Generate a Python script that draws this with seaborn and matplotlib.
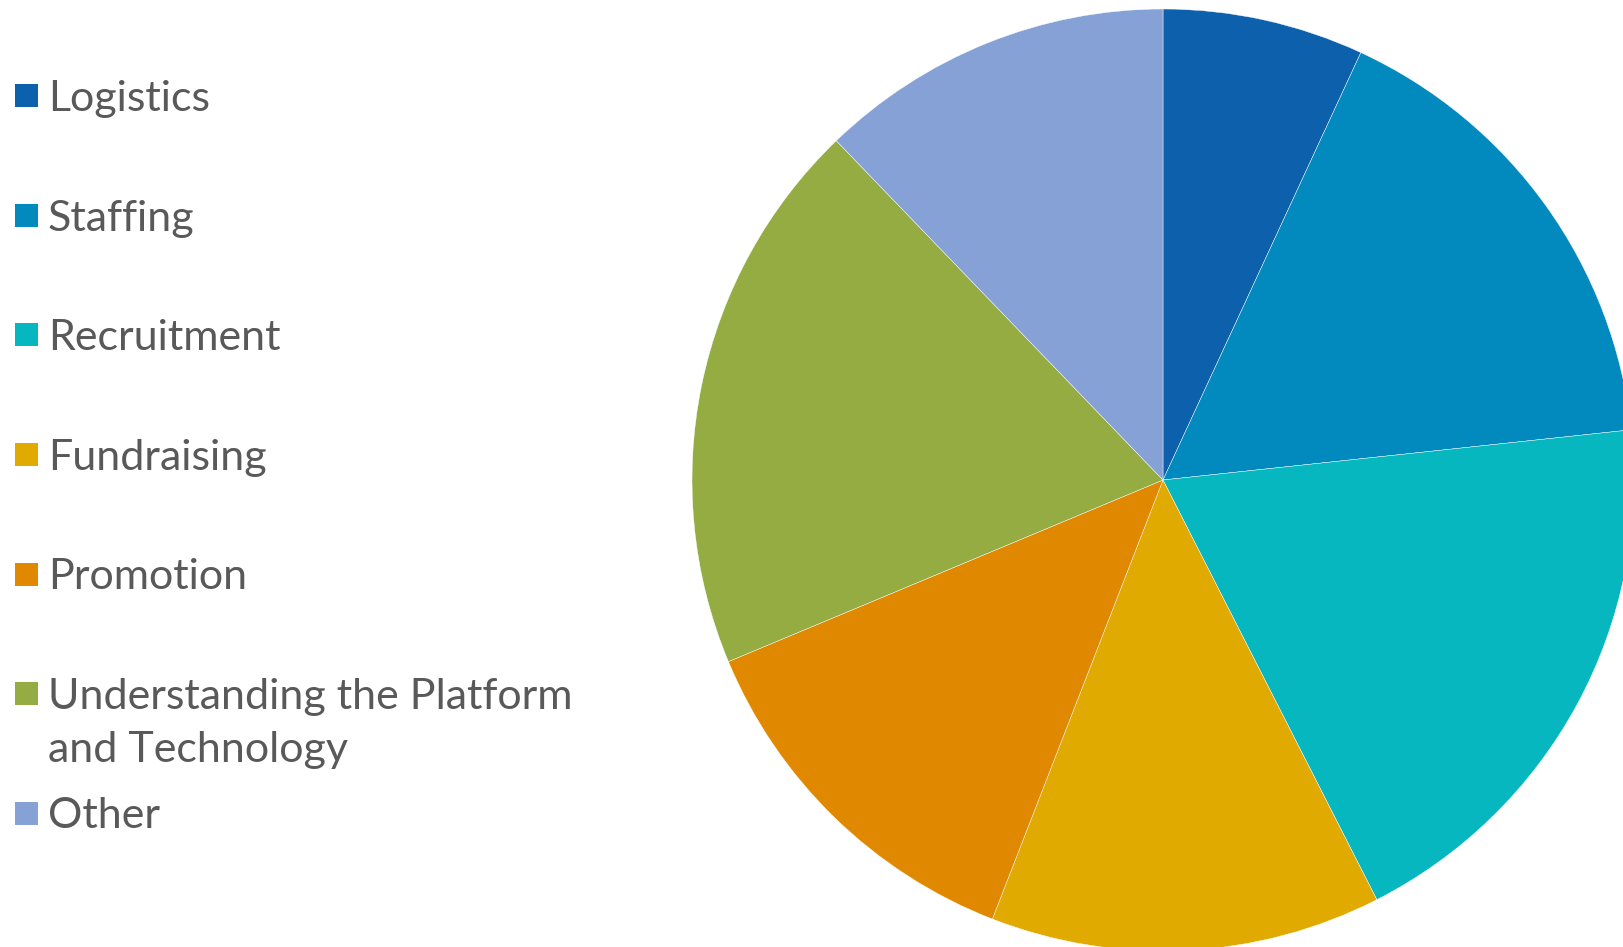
import matplotlib
matplotlib.use("Agg")
import matplotlib.pyplot as plt
from matplotlib.patches import Rectangle
import seaborn as sns

# Share of responses by topic
categories = [
    "Logistics",
    "Staffing",
    "Recruitment",
    "Fundraising",
    "Promotion",
    "Understanding the Platform\nand Technology",
    "Other",
]
values = [6.9, 16.4, 19.2, 13.4, 12.8, 19.1, 12.2]
colors = ["#0C60AC", "#028ABF", "#07B7C0", "#E0AA00", "#E08900", "#94AC42", "#86A1D5"]

sns.set_theme(style="white")
plt.rcParams["font.family"] = ["Lato", "DejaVu Sans"]
palette = sns.color_palette(colors)

W, H, DPI = 1623, 947, 100
fig = plt.figure(figsize=(W / DPI, H / DPI), dpi=DPI)
fig.patch.set_facecolor("white")

# Pie axes: square box in pixel units, allowed to run past the figure edge
cx, cy, r = 1163, 480, 471
ax = fig.add_axes([(cx - r) / W, (H - cy - r) / H, 2 * r / W, 2 * r / H])
ax.pie(
    values,
    colors=palette,
    startangle=90,
    counterclock=False,
    radius=1,
    wedgeprops=dict(edgecolor="white", linewidth=0.3),
)
ax.set_xlim(-1, 1)
ax.set_ylim(-1, 1)
ax.set_aspect("equal")
ax.axis("off")

# Legend on the left: colour squares with grey labels
text_color = "#595959"
sq = 23
x_sq = 15
x_txt = 48
first_center = 96
step = 119.5
line_step = 53
for i, (label, col) in enumerate(zip(categories, palette)):
    yc = first_center + i * step
    fig.add_artist(
        Rectangle(
            (x_sq / W, (H - yc - sq / 2) / H),
            sq / W,
            sq / H,
            transform=fig.transFigure,
            facecolor=col,
            edgecolor="none",
        )
    )
    for j, line in enumerate(label.split("\n")):
        yb = yc + 15 + j * line_step
        fig.text(
            x_txt / W,
            (H - yb) / H,
            line,
            fontsize=31,
            color=text_color,
            ha="left",
            va="baseline",
        )

fig.savefig("out.png", dpi=DPI, facecolor="white")
